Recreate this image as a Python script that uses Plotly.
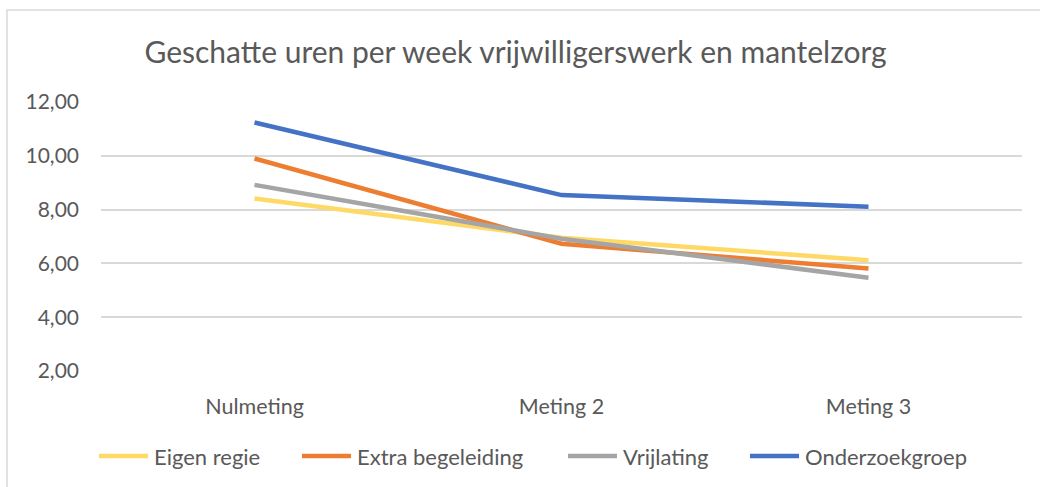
import plotly.graph_objects as go

categories = ["Nulmeting", "Meting 2", "Meting 3"]
eigen_regie = [8.41, 6.95, 6.12]
extra_begeleiding = [9.90, 6.73, 5.81]
vrijlating = [8.92, 6.92, 5.47]
onderzoekgroep = [11.24, 8.54, 8.11]
y_ticks = [2, 4, 6, 8, 10, 12]

series_names = ["Eigen regie", "Extra begeleiding", "Vrijlating", "Onderzoekgroep"]
series_values = [eigen_regie, extra_begeleiding, vrijlating, onderzoekgroep]
series_colors = ["#FFD966", "#ED7D31", "#A5A5A5", "#4472C4"]

W, H = 1040, 487
ML, MR, MT, MB = 101, 18, 102, 116
PW, PH = W - ML - MR, H - MT - MB

def px_x(p):
    return (p - ML) / PW

def px_y(p):
    return (H - MB - p) / PH

fig = go.Figure()
for name, vals, col in zip(series_names, series_values, series_colors):
    fig.add_trace(go.Scatter(
        x=categories, y=vals, name=name, mode="lines",
        line=dict(color=col, width=4.5), showlegend=False,
    ))

font_fam = "Lato, 'Open Sans', sans-serif"

# custom legend (Excel-style long line samples)
legend_sample_start = [97, 300, 566, 748]
legend_y = 456
shapes = [dict(type="rect", xref="paper", yref="paper",
               x0=px_x(7), x1=px_x(1050), y0=px_y(500), y1=px_y(10),
               line=dict(color="#D9D9D9", width=1.5), fillcolor="rgba(0,0,0,0)",
               layer="below")]
annotations = []
for name, col, s in zip(series_names, series_colors, legend_sample_start):
    shapes.append(dict(type="line", xref="paper", yref="paper",
                       x0=px_x(s + 2), x1=px_x(s + 51), y0=px_y(legend_y), y1=px_y(legend_y),
                       line=dict(color=col, width=4.5)))
    annotations.append(dict(text=name, xref="paper", yref="paper",
                            x=px_x(s + 55), y=px_y(legend_y), xanchor="left", yanchor="middle",
                            showarrow=False, font=dict(size=22, color="#595959", family=font_fam)))

fig.update_layout(
    width=W, height=H,
    margin=dict(l=ML, r=MR, t=MT, b=MB),
    paper_bgcolor="white", plot_bgcolor="white",
    separators=",.",
    font=dict(family=font_fam, color="#595959", size=16),
    title=dict(text="Geschatte uren per week vrijwilligerswerk en mantelzorg",
               x=0.4957, xanchor="center", y=0.893, yanchor="middle",
               font=dict(size=30, color="#595959", family=font_fam)),
    showlegend=False,
    xaxis=dict(range=[-0.5, 2.5], showgrid=False, zeroline=False, showline=False,
               ticks="", ticklabelstandoff=20, tickfont=dict(size=21.5)),
    yaxis=dict(range=[2, 12], tickvals=y_ticks, tickformat=".2f",
               showgrid=True, gridcolor="#D9D9D9", gridwidth=1.5,
               zeroline=False, showline=False, ticks="", ticklabelstandoff=21,
               tickfont=dict(size=21)),
    shapes=shapes,
    annotations=annotations,
)
fig.write_html("out.html", config={"displayModeBar": False},
               post_script="document.body.style.margin='0';")
